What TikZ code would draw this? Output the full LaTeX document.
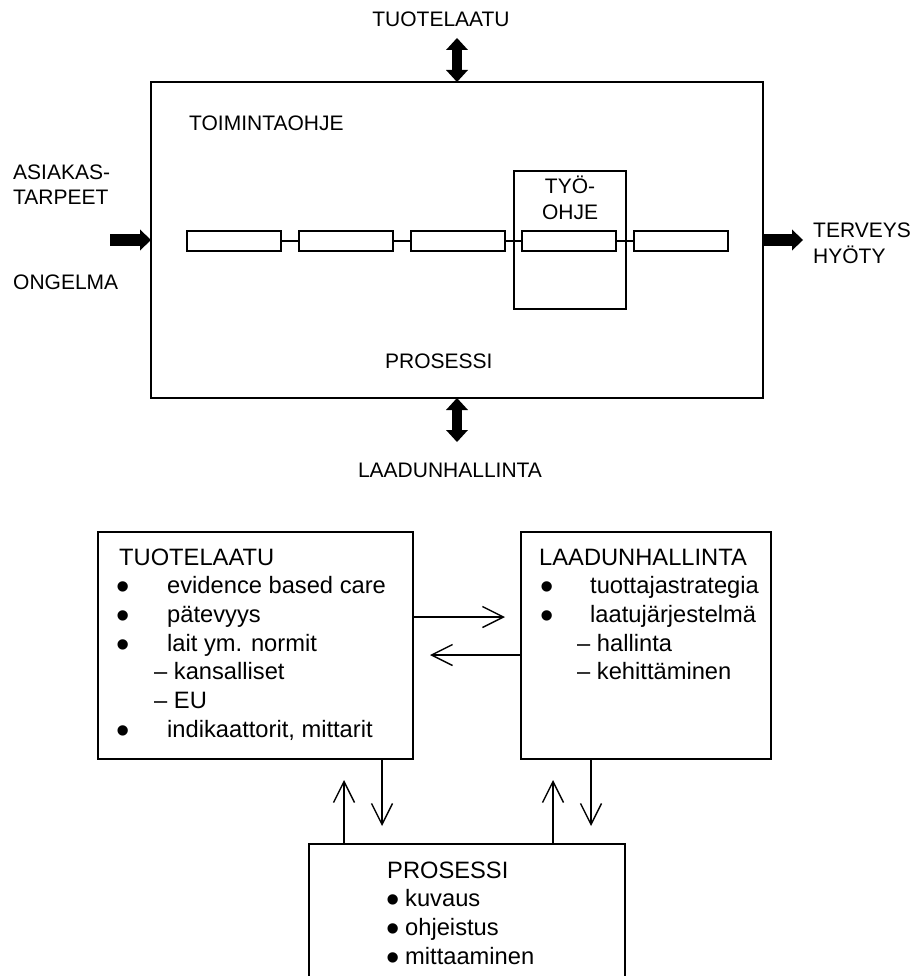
\documentclass[tikz,border=0pt]{standalone}
\usepackage{fontspec}
\setmainfont{Liberation Sans}
\usetikzlibrary{arrows.meta}
\begin{document}
\begin{tikzpicture}[x=1pt,y=-1pt,
  frame/.style={draw, line width=1.6pt, inner sep=0pt, outer sep=0pt, anchor=north west},
  lbl/.style={font=\fontsize{21}{25}\selectfont, inner sep=0pt, anchor=base west},
  clbl/.style={lbl, anchor=base},
  txt/.style={font=\fontsize{23.7}{28}\selectfont, inner sep=0pt, anchor=base west},
  dot/.style={font=\fontsize{38}{38}\selectfont, inner sep=0pt, anchor=base west,
    text height=16pt, text depth=0pt, yshift=-6pt},
  fat/.style={line width=11pt, -{Triangle[length=11pt,width=21pt,line width=0pt]}},
  fattwo/.style={line width=10pt,
    {Triangle[length=12pt,width=22pt,line width=0pt]}-{Triangle[length=12pt,width=22pt,line width=0pt]}},
  thinarrow/.style={line width=1.4pt, -{Straight Barb[length=21pt,width=21pt]}},
  link/.style={line width=1.6pt}]
\useasboundingbox (0,0) rectangle (915,976);
\clip (0,0) rectangle (915,976);

% ---- process overview ----
\node[frame, line width=1.8pt, minimum width=612pt, minimum height=316pt] (main) at (151,82) {};

\node[clbl] (tqtop) at (441,27) {TUOTELAATU};
\node[lbl] (toim) at (189,131) {TOIMINTAOHJE};
\node[lbl] (asi1) at (13,180) {ASIAKAS-};
\node[lbl] (asi2) at (13,205) {TARPEET};
\node[lbl] (ong) at (13,289) {ONGELMA};
\node[lbl] (ter1) at (813,237) {TERVEYS};
\node[lbl] (ter2) at (813,263) {HYÖTY};
\node[lbl] (prtop) at (385,368) {PROSESSI};
\node[clbl] (lhbot) at (450,477) {LAADUNHALLINTA};

% work instruction frame around the fourth step
\node[frame, minimum width=112pt, minimum height=138pt] (wi) at (514,171) {};
\node[clbl] (wi1) at (570,194) {TYÖ-};
\node[clbl] (wi2) at (570,219) {OHJE};

% chain of process steps
\foreach \i/\x in {1/187,2/299,3/411,4/522,5/634}
  \node[frame, minimum width=94pt, minimum height=20pt] (r\i) at (\x,231) {};
\draw[link] (r1.east) -- (r2.west);
\draw[link] (r2.east) -- (r3.west);
\draw[link] (r3.east) -- (r4.west);
\draw[link] (r4.east) -- (r5.west);

% inputs and outputs
\coordinate (inA) at (110,240);
\draw[fat] (inA) -- (main.west);
\coordinate (outA) at (803,240);
\draw[fat] (main.east) -- (outA);
\coordinate (topA) at (457,38);
\draw[fattwo] (topA) -- (main.north);
\coordinate (botA) at (457,442);
\draw[fattwo] (main.south) -- (botA);

% ---- quality boxes ----
\node[frame, minimum width=315pt, minimum height=227pt] (tq) at (98,532) {};
\node[frame, minimum width=250pt, minimum height=227pt] (lh) at (521,532) {};
\node[frame, minimum width=316pt, minimum height=170pt] (pr) at (309,844) {};

% product quality
\node[txt] (tq0) at (119,565) {TUOTELAATU};
\node[dot] (tqb1) at (116,593.7) {•};
\node[txt] (tq1) at (167,593.7) {evidence based care};
\node[dot] (tqb2) at (116,622.3) {•};
\node[txt] (tq2) at (167,622.3) {pätevyys};
\node[dot] (tqb3) at (116,651) {•};
\node[txt] (tq3) at (167,651) {lait ym. normit};
\node[txt] (tq4) at (154,679.7) {– kansalliset};
\node[txt] (tq5) at (154,708.3) {– EU};
\node[dot] (tqb6) at (116,737) {•};
\node[txt] (tq6) at (167,737) {indikaattorit, mittarit};

% quality management
\node[txt] (lh0) at (539,565) {LAADUNHALLINTA};
\node[dot] (lhb1) at (540,593.7) {•};
\node[txt] (lh1) at (590,593.7) {tuottajastrategia};
\node[dot] (lhb2) at (540,622.3) {•};
\node[txt] (lh2) at (590,622.3) {laatujärjestelmä};
\node[txt] (lh3) at (577,651) {– hallinta};
\node[txt] (lh4) at (577,679.7) {– kehittäminen};

% process
\node[txt] (pr0) at (387,878) {PROSESSI};
\node[dot] (prb1) at (386,906.7) {•};
\node[txt] (pr1) at (405,906.7) {kuvaus};
\node[dot] (prb2) at (386,935.3) {•};
\node[txt] (pr2) at (405,935.3) {ohjeistus};
\node[dot] (prb3) at (386,964) {•};
\node[txt] (pr3) at (405,964) {mittaaminen};

% interactions between the boxes
\coordinate (e1) at (505,617);
\draw[thinarrow] (tq.east |- e1) -- (e1);
\coordinate (e2) at (430,655);
\draw[thinarrow] (lh.west |- e2) -- (e2);
\coordinate (e3) at (344,780);
\draw[thinarrow] (pr.north -| e3) -- (e3);
\coordinate (e4) at (382,826);
\draw[thinarrow] (tq.south -| e4) -- (e4);
\coordinate (e5) at (553,780);
\draw[thinarrow] (pr.north -| e5) -- (e5);
\coordinate (e6) at (591,826);
\draw[thinarrow] (lh.south -| e6) -- (e6);
\end{tikzpicture}
\end{document}
